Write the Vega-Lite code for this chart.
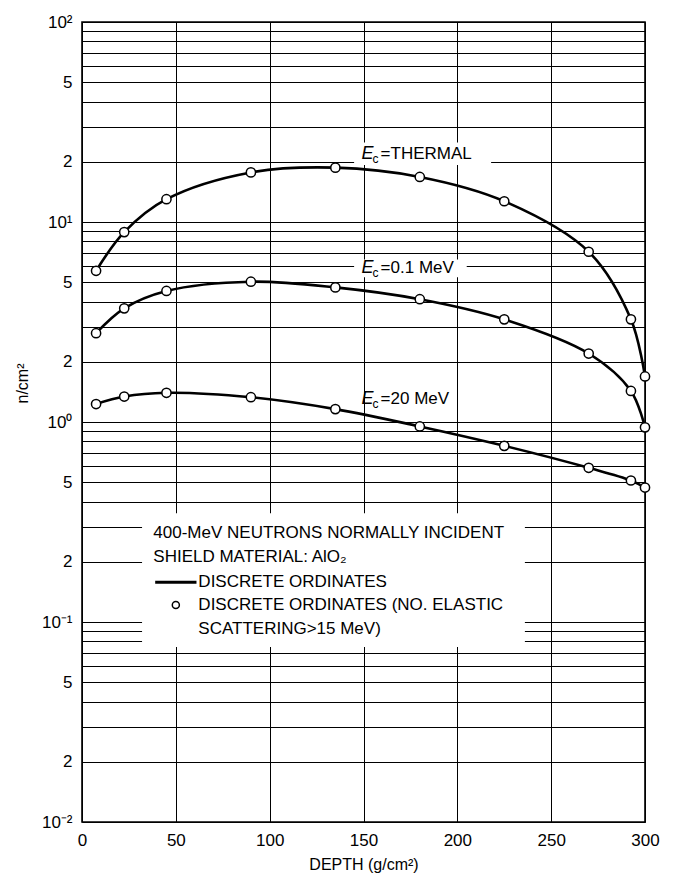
{
  "$schema": "https://vega.github.io/schema/vega-lite/v6.json",
  "width": 563,
  "height": 800,
  "autosize": "none",
  "padding": {"left": 82, "top": 22, "right": 28, "bottom": 55},
  "background": "white",
  "config": {
    "view": {"stroke": "black", "strokeWidth": 1.6},
    "font": "Liberation Sans",
    "axis": {
      "grid": true, "gridColor": "black", "gridOpacity": 1, "gridWidth": 1,
      "domain": false, "ticks": false,
      "labelFont": "Liberation Sans", "labelFontSize": 17, "labelColor": "black",
      "titleFont": "Liberation Sans", "titleFontSize": 16, "titleFontWeight": "normal", "titleColor": "black",
      "labelFlush": false, "labelOverlap": false, "labelBound": false
    }
  },
  "datasets": {
    "curves": [
      {"series": "THERMAL", "depth": 7.5, "val": 5.7},
      {"series": "THERMAL", "depth": 22.5, "val": 8.9},
      {"series": "THERMAL", "depth": 45, "val": 13.0},
      {"series": "THERMAL", "depth": 90, "val": 17.7},
      {"series": "THERMAL", "depth": 135, "val": 18.7},
      {"series": "THERMAL", "depth": 180, "val": 16.8},
      {"series": "THERMAL", "depth": 225, "val": 12.7},
      {"series": "THERMAL", "depth": 270, "val": 7.1},
      {"series": "THERMAL", "depth": 292.5, "val": 3.26},
      {"series": "THERMAL", "depth": 300, "val": 1.69},
      {"series": "0.1 MeV", "depth": 7.5, "val": 2.78},
      {"series": "0.1 MeV", "depth": 22.5, "val": 3.7},
      {"series": "0.1 MeV", "depth": 45, "val": 4.52},
      {"series": "0.1 MeV", "depth": 90, "val": 5.03},
      {"series": "0.1 MeV", "depth": 135, "val": 4.71},
      {"series": "0.1 MeV", "depth": 180, "val": 4.11},
      {"series": "0.1 MeV", "depth": 225, "val": 3.26},
      {"series": "0.1 MeV", "depth": 270, "val": 2.2},
      {"series": "0.1 MeV", "depth": 292.5, "val": 1.43},
      {"series": "0.1 MeV", "depth": 300, "val": 0.94},
      {"series": "20 MeV", "depth": 7.5, "val": 1.23},
      {"series": "20 MeV", "depth": 22.5, "val": 1.34},
      {"series": "20 MeV", "depth": 45, "val": 1.4},
      {"series": "20 MeV", "depth": 90, "val": 1.33},
      {"series": "20 MeV", "depth": 135, "val": 1.16},
      {"series": "20 MeV", "depth": 180, "val": 0.95},
      {"series": "20 MeV", "depth": 225, "val": 0.76},
      {"series": "20 MeV", "depth": 270, "val": 0.59},
      {"series": "20 MeV", "depth": 292.5, "val": 0.51},
      {"series": "20 MeV", "depth": 300, "val": 0.47}
    ],
    "boxes": [
      {"x1": 32, "x2": 236, "y1": 0.075, "y2": 0.35},
      {"x1": 145, "x2": 218, "y1": 19.3, "y2": 25},
      {"x1": 145, "x2": 205, "y1": 5.3, "y2": 6.5}
    ],
    "labels": [
      {"depth": 149, "val": 22, "rest": "=THERMAL"},
      {"depth": 149, "val": 5.9, "rest": "=0.1 MeV"},
      {"depth": 149, "val": 1.31, "rest": "=20 MeV"}
    ],
    "legendText": [
      {"depth": 38, "val": 0.279, "text": "400-MeV NEUTRONS NORMALLY INCIDENT"},
      {"depth": 38, "val": 0.211, "text": "SHIELD MATERIAL: AlO₂"},
      {"depth": 62, "val": 0.158, "text": "DISCRETE ORDINATES"},
      {"depth": 62, "val": 0.1216, "text": "DISCRETE ORDINATES (NO. ELASTIC"},
      {"depth": 62, "val": 0.0923, "text": "SCATTERING>15 MeV)"}
    ],
    "legendLine": [
      {"depth": 39, "val": 0.158},
      {"depth": 61, "val": 0.158}
    ],
    "legendPoint": [
      {"depth": 50, "val": 0.1216}
    ]
  },
  "layer": [
    {
      "data": {"name": "boxes"},
      "mark": {"type": "rect", "fill": "white", "stroke": null},
      "encoding": {
        "x": {"field": "x1", "type": "quantitative", "scale": {"domain": [0, 300], "nice": false},
          "axis": {"values": [0, 50, 100, 150, 200, 250, 300], "title": "DEPTH (g/cm²)", "labelPadding": 10, "titlePadding": 8}},
        "x2": {"field": "x2"},
        "y": {"field": "y1", "type": "quantitative", "scale": {"type": "log", "domain": [0.01, 100], "nice": false},
          "axis": {
            "values": [0.01,0.02,0.03,0.04,0.05,0.06,0.07,0.08,0.09,0.1,0.2,0.3,0.4,0.5,0.6,0.7,0.8,0.9,1,2,3,4,5,6,7,8,9,10,20,30,40,50,60,70,80,90,100],
            "labelExpr": "round(datum.value/pow(10,floor(log(datum.value)/LN10+0.000001)))==1 ? '10' + ['⁻²','⁻¹','⁰','¹','²'][floor(log(datum.value)/LN10+0.000001)+2] : (indexof([2,5], round(datum.value/pow(10,floor(log(datum.value)/LN10+0.000001))))>=0 ? '' + round(datum.value/pow(10,floor(log(datum.value)/LN10+0.000001))) : '')",
            "labelPadding": 10,
            "title": "n/cm²",
            "titleX": -60, "titleY": 361, "titleAngle": -90, "titleAlign": "center", "titleBaseline": "middle"
          }},
        "y2": {"field": "y2"}
      }
    },
    {
      "data": {"name": "curves"},
      "mark": {"type": "line", "color": "black", "strokeWidth": 2.6, "interpolate": "catmull-rom"},
      "encoding": {
        "x": {"field": "depth", "type": "quantitative"},
        "y": {"field": "val", "type": "quantitative"},
        "detail": {"field": "series"}
      }
    },
    {
      "data": {"name": "curves"},
      "mark": {"type": "point", "shape": "circle", "filled": true, "fill": "white", "stroke": "black", "strokeWidth": 1.5, "size": 85, "opacity": 1},
      "encoding": {
        "x": {"field": "depth", "type": "quantitative"},
        "y": {"field": "val", "type": "quantitative"}
      }
    },
    {
      "data": {"name": "labels"},
      "mark": {"type": "text", "text": "E", "fontStyle": "italic", "fontSize": 18, "align": "left", "baseline": "middle", "color": "black"},
      "encoding": {
        "x": {"field": "depth", "type": "quantitative"},
        "y": {"field": "val", "type": "quantitative"}
      }
    },
    {
      "data": {"name": "labels"},
      "mark": {"type": "text", "text": "c", "fontSize": 12, "align": "left", "baseline": "middle", "dx": 11, "dy": 5, "color": "black"},
      "encoding": {
        "x": {"field": "depth", "type": "quantitative"},
        "y": {"field": "val", "type": "quantitative"}
      }
    },
    {
      "data": {"name": "labels"},
      "mark": {"type": "text", "fontSize": 17, "align": "left", "baseline": "middle", "dx": 19, "color": "black"},
      "encoding": {
        "x": {"field": "depth", "type": "quantitative"},
        "y": {"field": "val", "type": "quantitative"},
        "text": {"field": "rest"}
      }
    },
    {
      "data": {"name": "legendText"},
      "mark": {"type": "text", "fontSize": 17, "align": "left", "baseline": "middle", "color": "black"},
      "encoding": {
        "x": {"field": "depth", "type": "quantitative"},
        "y": {"field": "val", "type": "quantitative"},
        "text": {"field": "text"}
      }
    },
    {
      "data": {"name": "legendLine"},
      "mark": {"type": "line", "color": "black", "strokeWidth": 3},
      "encoding": {
        "x": {"field": "depth", "type": "quantitative"},
        "y": {"field": "val", "type": "quantitative"}
      }
    },
    {
      "data": {"name": "legendPoint"},
      "mark": {"type": "point", "shape": "circle", "filled": true, "fill": "white", "stroke": "black", "strokeWidth": 1.5, "size": 50, "opacity": 1},
      "encoding": {
        "x": {"field": "depth", "type": "quantitative"},
        "y": {"field": "val", "type": "quantitative"}
      }
    }
  ]
}
